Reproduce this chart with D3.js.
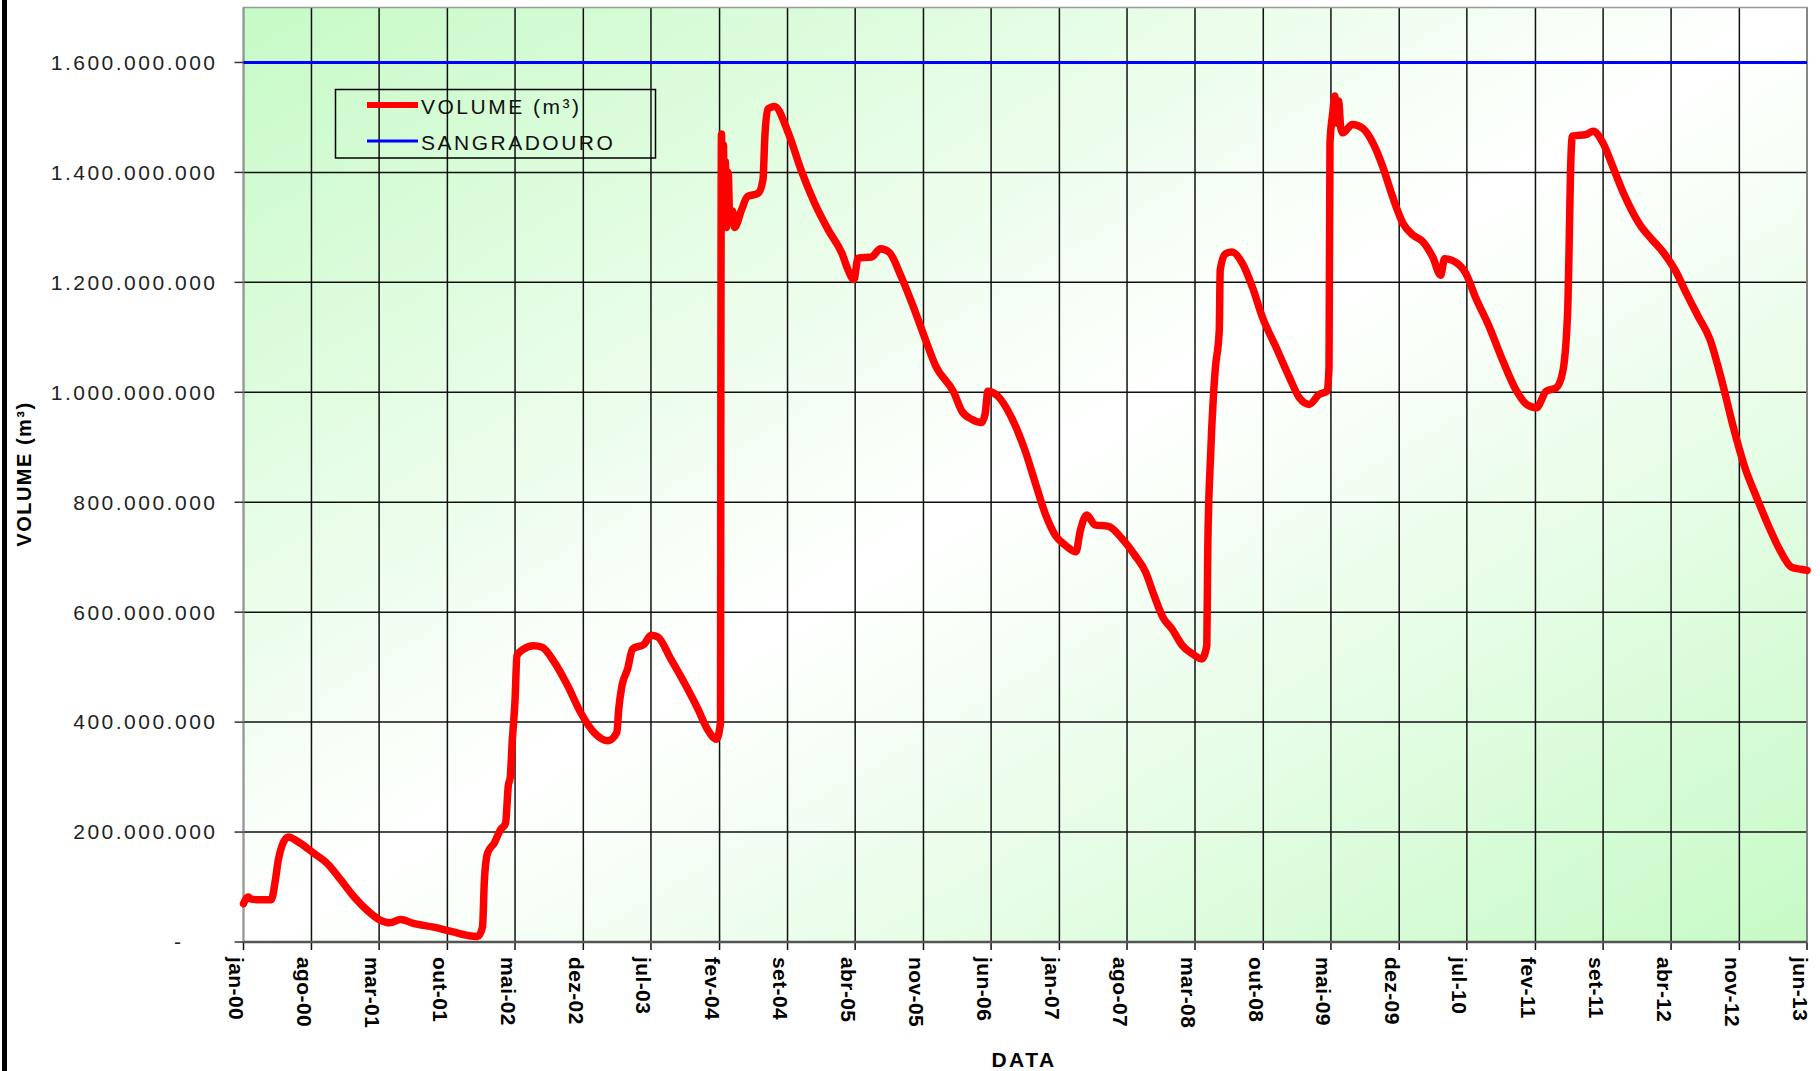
<!DOCTYPE html>
<html>
<head>
<meta charset="utf-8">
<script src="https://cdnjs.cloudflare.com/ajax/libs/d3/7.8.5/d3.min.js"></script>
<style>
  body { margin: 0; background: #fff; }
  svg { display: block; font-family: "Liberation Sans", Arial, sans-serif; }
</style>
</head>
<body>
<svg id="chart"></svg>
<script>

// tick labels of the date axis (every 7 months)
const tickLabels = ['jan-00', 'ago-00', 'mar-01', 'out-01', 'mai-02', 'dez-02', 'jul-03', 'fev-04',
  'set-04', 'abr-05', 'nov-05', 'jun-06', 'jan-07', 'ago-07', 'mar-08', 'out-08', 'mai-09', 'dez-09',
  'jul-10', 'fev-11', 'set-11', 'abr-12', 'nov-12', 'jun-13']
const monthNames = ['jan', 'fev', 'mar', 'abr', 'mai', 'jun', 'jul', 'ago', 'set', 'out', 'nov', 'dez']

const yTicks = [0, 200e6, 400e6, 600e6, 800e6, 1000e6, 1200e6, 1400e6, 1600e6]
const yMax = 1700e6

// SANGRADOURO (spillway level), m3
const spillway = 1600e6

// VOLUME series (dates + volume in millions of m3)
const dates = [
  '2000-01-01', '2000-01-16', '2000-01-25', '2000-02-16', '2000-03-16', '2000-03-28', '2000-04-10', '2000-04-19',
  '2000-04-30', '2000-05-20', '2000-06-26', '2000-08-07', '2000-09-19', '2000-11-01', '2000-12-13', '2001-01-22',
  '2001-03-04', '2001-04-04', '2001-05-07', '2001-06-16', '2001-08-19', '2001-10-22', '2001-12-04', '2002-01-04',
  '2002-01-19', '2002-01-25', '2002-02-04', '2002-02-25', '2002-03-16', '2002-04-01', '2002-04-10', '2002-04-16',
  '2002-04-22', '2002-05-01', '2002-05-07', '2002-05-28', '2002-06-28', '2002-07-25', '2002-09-01', '2002-10-13',
  '2002-11-22', '2003-01-04', '2003-02-16', '2003-03-16', '2003-03-22', '2003-04-01', '2003-04-19', '2003-05-04',
  '2003-06-10', '2003-07-01', '2003-07-22', '2003-09-01', '2003-10-13', '2003-11-25', '2003-12-25', '2004-01-22',
  '2004-02-04', '2004-02-05', '2004-02-07', '2004-02-10', '2004-02-13', '2004-02-16', '2004-02-19', '2004-02-23',
  '2004-02-28', '2004-03-04', '2004-03-13', '2004-03-19', '2004-04-10', '2004-04-28', '2004-06-01', '2004-06-16',
  '2004-06-22', '2004-07-01', '2004-07-22', '2004-09-04', '2004-10-13', '2004-11-25', '2005-01-07', '2005-02-19',
  '2005-03-10', '2005-03-28', '2005-04-10', '2005-05-22', '2005-06-19', '2005-07-16', '2005-08-22', '2005-09-28',
  '2005-11-07', '2005-12-10', '2006-02-04', '2006-03-01', '2006-04-01', '2006-05-01', '2006-05-13', '2006-05-22',
  '2006-06-22', '2006-08-04', '2006-09-16', '2006-10-16', '2006-11-19', '2006-12-19', '2007-01-19', '2007-02-22',
  '2007-03-07', '2007-03-28', '2007-04-22', '2007-06-04', '2007-07-16', '2007-08-25', '2007-09-28', '2007-10-25',
  '2007-11-22', '2007-12-19', '2008-01-22', '2008-02-22', '2008-03-22', '2008-04-07', '2008-04-10', '2008-04-19',
  '2008-04-28', '2008-05-04', '2008-05-16', '2008-05-19', '2008-06-04', '2008-06-25', '2008-07-28', '2008-08-28',
  '2008-09-28', '2008-11-10', '2008-12-22', '2009-01-22', '2009-02-22', '2009-03-25', '2009-04-19', '2009-04-25',
  '2009-04-28', '2009-05-07', '2009-05-13', '2009-05-19', '2009-05-25', '2009-06-01', '2009-06-07', '2009-07-07',
  '2009-08-07', '2009-09-10', '2009-10-10', '2009-11-10', '2009-12-13', '2010-01-13', '2010-02-13', '2010-03-16',
  '2010-04-10', '2010-04-22', '2010-05-16', '2010-06-28', '2010-07-28', '2010-09-10', '2010-10-22', '2010-12-04',
  '2011-01-04', '2011-02-04', '2011-03-07', '2011-04-07', '2011-04-28', '2011-05-13', '2011-05-19', '2011-05-22',
  '2011-05-28', '2011-07-10', '2011-08-01', '2011-09-01', '2011-10-01', '2011-11-04', '2011-12-25', '2012-02-01',
  '2012-03-07', '2012-04-13', '2012-05-19', '2012-06-25', '2012-08-01', '2012-09-07', '2012-10-13', '2012-11-19',
  '2012-12-25', '2013-02-01', '2013-03-07', '2013-04-13', '2013-05-13', '2013-06-01'
]
const volumeMi = [
  70, 82, 78, 77, 77, 77, 113, 149,
  174, 191, 180, 162, 143, 113, 82, 58,
  40, 35, 41, 34, 27, 18, 12, 10,
  27, 113, 162, 180, 204, 215, 285, 300,
  363, 440, 521, 533, 539, 536, 509, 466,
  418, 381, 366, 381, 424, 466, 497, 533,
  542, 558, 555, 515, 472, 424, 387, 369,
  399, 1000, 1470, 1330, 1450, 1310, 1420, 1300,
  1400, 1310, 1330, 1300, 1332, 1356, 1362, 1387,
  1466, 1515, 1520, 1471, 1405, 1344, 1295, 1252,
  1222, 1205, 1244, 1246, 1261, 1255, 1212, 1159,
  1096, 1047, 1000, 966, 951, 945, 960, 1002,
  993, 954, 893, 838, 777, 740, 722, 710,
  747, 777, 759, 756, 734, 704, 673, 630,
  590, 570, 539, 524, 515, 539, 716, 887,
  996, 1045, 1112, 1222, 1252, 1255, 1234, 1191,
  1137, 1082, 1027, 990, 978, 996, 1002, 1045,
  1453, 1510, 1539, 1490, 1530, 1480, 1472, 1487,
  1481, 1453, 1411, 1356, 1307, 1286, 1274, 1246,
  1213, 1243, 1240, 1216, 1173, 1118, 1057, 1002,
  978, 972, 1002, 1008, 1039, 1149, 1313, 1405,
  1466, 1469, 1475, 1453, 1411, 1362, 1305, 1278,
  1255, 1223, 1180, 1138, 1096, 1021, 937, 862,
  809, 756, 714, 682, 678, 676
]

const parseDate = d3.timeParse('%Y-%m-%d')
const points = dates.map((d, i) => ({ date: parseDate(d), value: volumeMi[i] * 1e6 }))

// "jan-00" -> Date
const tickDates = tickLabels.map(l => {
  const [m, y] = l.split('-')
  return new Date(2000 + Number(y), monthNames.indexOf(m), 1)
})

// set the dimensions and margins of the graph
const W = 1820, H = 1071
const margin = { top: 7.5, right: 13, bottom: 129, left: 243.5 },
  width = W - margin.left - margin.right,
  height = H - margin.top - margin.bottom

const svg = d3.select('#chart').attr('width', W).attr('height', H)

// green - white - green diagonal fill of the plot area
const grad = svg.append('defs').append('linearGradient')
  .attr('id', 'plotFill').attr('x1', 0).attr('y1', 0).attr('x2', 1).attr('y2', 1)
grad.append('stop').attr('offset', '0%').attr('stop-color', '#c6fac6')
grad.append('stop').attr('offset', '50%').attr('stop-color', '#ffffff')
grad.append('stop').attr('offset', '100%').attr('stop-color', '#c6fac6')

// black bar on the left border of the picture
svg.append('rect').attr('x', 2).attr('y', 0).attr('width', 5).attr('height', H).attr('fill', '#000')

const g = svg.append('g').attr('transform', 'translate(' + margin.left + ',' + margin.top + ')')

const x = d3.scaleTime().domain([tickDates[0], tickDates[tickDates.length - 1]]).range([0, width])
const y = d3.scaleLinear().domain([0, yMax]).range([height, 0])

g.append('rect').attr('width', width).attr('height', height).attr('fill', 'url(#plotFill)')

// horizontal grid
g.append('g').selectAll('line').data(yTicks.filter(d => d > 0)).join('line')
  .attr('x1', 0).attr('x2', width)
  .attr('y1', d => y(d)).attr('y2', d => y(d))
  .attr('stroke', '#111').attr('stroke-width', 1.5)

// vertical grid (+ tick marks under the axis)
g.append('g').selectAll('line').data(tickDates).join('line')
  .attr('x1', d => x(d)).attr('x2', d => x(d))
  .attr('y1', 0).attr('y2', height + 8)
  .attr('stroke', '#111').attr('stroke-width', 1.5)

// plot border
g.append('rect').attr('width', width).attr('height', height)
  .attr('fill', 'none').attr('stroke', '#999').attr('stroke-width', 1.5)

// x axis line
g.append('line').attr('x1', 0).attr('x2', width).attr('y1', height).attr('y2', height)
  .attr('stroke', '#555').attr('stroke-width', 2.5)

// y axis: tick marks + labels (pt-BR grouping)
const ptBR = d3.formatLocale({ decimal: ',', thousands: '.', grouping: [3], currency: ['R$', ''] })
const fmt = ptBR.format(',.0f')

const yAxis = g.append('g')
yAxis.selectAll('line').data(yTicks).join('line')
  .attr('x1', -9).attr('x2', 0)
  .attr('y1', d => y(d)).attr('y2', d => y(d))
  .attr('stroke', '#333').attr('stroke-width', 1.5)
yAxis.selectAll('text').data(yTicks).join('text')
  .attr('x', d => d === 0 ? -60 : -26)
  .attr('y', d => y(d))
  .attr('dy', '0.35em')
  .attr('text-anchor', 'end')
  .attr('font-size', 21)
  .attr('letter-spacing', 2.5)
  .attr('fill', '#222')
  .text(d => d === 0 ? '-' : fmt(d))

// x axis labels, rotated, reading top to bottom
g.append('g').selectAll('text').data(tickDates).join('text')
  .attr('transform', (d, i) => 'translate(' + (x(d) - 7) + ',' + (height + 15) + ') rotate(90)')
  .attr('dominant-baseline', 'central')
  .attr('font-size', 21)
  .attr('font-weight', 'bold')
  .attr('letter-spacing', 0.4)
  .attr('fill', '#000')
  .text((d, i) => tickLabels[i])

// spillway line
g.append('line').attr('x1', 0).attr('x2', width)
  .attr('y1', y(spillway)).attr('y2', y(spillway))
  .attr('stroke', '#0000ff').attr('stroke-width', 3)

// volume line
const line = d3.line().curve(d3.curveMonotoneX).x(d => x(d.date)).y(d => y(d.value))
g.append('path')
  .datum(points)
  .attr('fill', 'none')
  .attr('stroke', '#ff0000')
  .attr('stroke-width', 7.5)
  .attr('stroke-linejoin', 'round')
  .attr('stroke-linecap', 'round')
  .attr('d', line)

// legend
const legend = svg.append('g')
legend.append('rect').attr('x', 335.5).attr('y', 89.5).attr('width', 320).attr('height', 68.5)
  .attr('fill', 'none').attr('stroke', '#000').attr('stroke-width', 1.5)
const legendItems = [
  { label: 'VOLUME (m³)', color: '#ff0000', w: 6, y: 105 },
  { label: 'SANGRADOURO', color: '#0000ff', w: 3, y: 141 }
]
legendItems.forEach(it => {
  legend.append('line').attr('x1', 367).attr('x2', 418).attr('y1', it.y).attr('y2', it.y)
    .attr('stroke', it.color).attr('stroke-width', it.w)
  legend.append('text').attr('x', 421).attr('y', it.y + 2).attr('dy', '0.35em')
    .attr('font-size', 21).attr('letter-spacing', 2.5).attr('fill', '#111')
    .text(it.label)
})

// axis titles
svg.append('text')
  .attr('transform', 'translate(24,474) rotate(-90)')
  .attr('text-anchor', 'middle').attr('dominant-baseline', 'central')
  .attr('font-size', 20).attr('font-weight', 'bold').attr('letter-spacing', 1.5)
  .text('VOLUME (m³)')

svg.append('text')
  .attr('x', 1024).attr('y', 1059)
  .attr('text-anchor', 'middle').attr('dominant-baseline', 'central')
  .attr('font-size', 21).attr('font-weight', 'bold').attr('letter-spacing', 2.5)
  .text('DATA')

</script>
</body>
</html>
